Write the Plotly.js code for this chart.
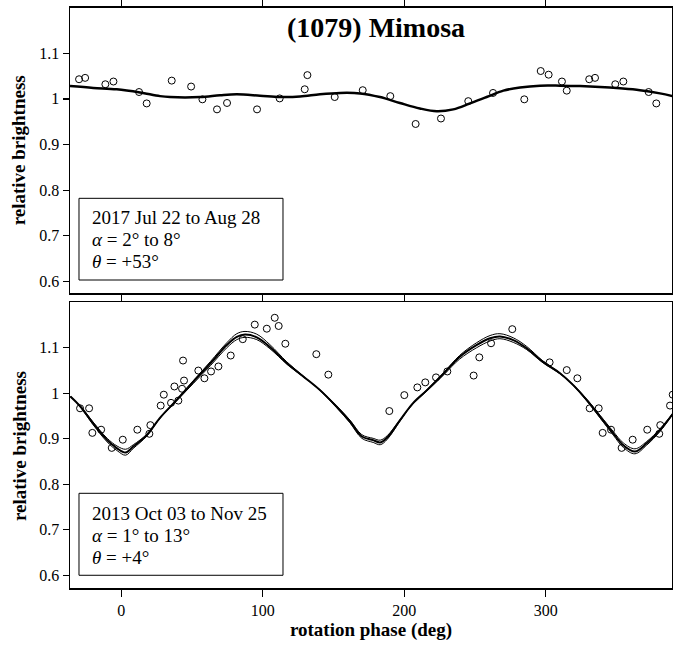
<!DOCTYPE html>
<html>
<head>
<meta charset="utf-8">
<script src="https://cdn.plot.ly/plotly-3.0.1.min.js"></script>
<style>html,body{margin:0;padding:0;background:#fff;}#chart{width:673px;height:645px;}</style>
</head>
<body>
<div id="chart"></div>
<script>
// ---- Top panel (2017) observations ----
const topObsPhase = [-29.9,-25.6,-11.3,-5.6,12.5,17.9,35.6,49.3,57.3,67.6,74.7,95.9,111.9,129.6,131.5,150.8,170.6,190.1,208.0,225.9,245.2,262.7,284.8,296.4,302.0,311.4,314.8,330.7,334.8,349.1,354.8,372.7,378.1];
const topObsBright = [1.043,1.046,1.032,1.038,1.015,0.990,1.040,1.027,0.999,0.977,0.991,0.977,1.001,1.021,1.052,1.004,1.019,1.006,0.945,0.957,0.995,1.013,0.999,1.061,1.053,1.038,1.018,1.043,1.046,1.032,1.038,1.015,0.990];
// ---- Top panel model curve ----
const topModelPhase = [-36.3,-19.8,-3.3,13.2,27.3,34.4,55.6,69.8,81.6,98,112.2,126.3,140.4,154.6,168.7,182.8,196.9,211,222.9,234.6,246.4,258.2,270,281.8,295.9,310,324.2,338.3,352.4,366.5,380.7,389.9];
const topModelBright = [1.028,1.024,1.021,1.014,1.006,1.004,1.004,1.008,1.010,1.007,1.004,1.005,1.010,1.013,1.012,1.004,0.991,0.979,0.973,0.977,0.990,1.004,1.018,1.025,1.029,1.029,1.028,1.026,1.023,1.019,1.012,1.006];

// ---- Bottom panel (2013) observations ----
const botObsPhase = [-29.2,-22.8,-20.5,-14.3,-6.8,1.0,11.3,19.8,20.5,27.8,30.0,35.1,37.5,40.3,42.9,44.3,43.6,54.4,58.7,63.4,68.6,77.3,85.8,94.3,102.8,108.4,111.2,115.9,137.8,146.3,189.4,200.0,209.2,214.8,222.4,230.4,249.0,253.0,261.3,276.3,302.7,314.8,322.3,331.0,337.4,340.2,346.1,353.6,361.4,371.7,380.2,380.9,387.8,389.7];
const botObsBright = [0.967,0.967,0.913,0.920,0.880,0.898,0.920,0.911,0.930,0.973,0.997,0.979,1.015,0.984,1.010,1.028,1.072,1.050,1.033,1.048,1.059,1.083,1.119,1.151,1.142,1.166,1.148,1.109,1.086,1.041,0.961,0.996,1.013,1.024,1.035,1.048,1.039,1.079,1.110,1.141,1.068,1.051,1.033,0.967,0.967,0.913,0.920,0.880,0.898,0.920,0.911,0.930,0.973,0.997];
// ---- Bottom panel model curves (bundle) ----
const botModelPhase = [-36,-29,-20,-10,-3,3,8.5,18,27,39,51,63,74.5,81.6,87.4,95.7,105,117,128.6,140.4,152,161.6,170,178,183,188,197,206,216,228,239,251,260.6,267.6,277,286.5,298,310,319.4,329,338.3,347.7,354.8,363,371.3,380.7,390];
const botModelMain = [0.993,0.971,0.934,0.897,0.879,0.870,0.883,0.908,0.945,0.985,1.026,1.066,1.106,1.124,1.129,1.123,1.102,1.066,1.037,1.007,0.971,0.938,0.905,0.897,0.892,0.903,0.941,0.978,1.007,1.044,1.080,1.106,1.121,1.125,1.117,1.099,1.069,1.044,1.018,0.985,0.949,0.912,0.886,0.872,0.890,0.919,0.956];
const botModelHigh = [0.994,0.970,0.931,0.893,0.874,0.864,0.879,0.906,0.944,0.986,1.028,1.070,1.111,1.131,1.136,1.130,1.107,1.069,1.038,1.006,0.969,0.935,0.901,0.892,0.887,0.899,0.939,0.978,1.008,1.046,1.083,1.111,1.127,1.131,1.122,1.103,1.071,1.045,1.017,0.983,0.946,0.908,0.881,0.867,0.886,0.916,0.955];
const botModelLow = [0.992,0.972,0.937,0.901,0.884,0.877,0.887,0.910,0.944,0.983,1.022,1.061,1.100,1.118,1.123,1.118,1.098,1.064,1.036,1.008,0.973,0.941,0.909,0.901,0.897,0.907,0.942,0.976,1.005,1.041,1.075,1.100,1.115,1.120,1.112,1.096,1.067,1.043,1.019,0.987,0.952,0.916,0.891,0.878,0.894,0.922,0.957];

const yTickVals = [0.6,0.7,0.8,0.9,1.0,1.1];
const yTickText = ['0.6','0.7','0.8','0.9','1','1.1'];
const xTickVals = [0,100,200,300];

const topInfo = ['2017 Jul 22 to Aug 28', '<i>α</i> = 2° to 8°', '<i>θ</i> = +53°'];
const botInfo = ['2013 Oct 03 to Nov 25', '<i>α</i> = 1° to 13°', '<i>θ</i> = +4°'];

const serif = 'Liberation Serif, DejaVu Serif, serif';
const mk = {symbol:'circle-open', size:7, color:'#000', line:{width:1, color:'#000'}};

const traces = [
  {x:topModelPhase, y:topModelBright, mode:'lines', line:{color:'#000', width:2.5, shape:'spline', smoothing:1}, xaxis:'x', yaxis:'y', hoverinfo:'skip'},
  {x:topObsPhase, y:topObsBright, mode:'markers', marker:mk, xaxis:'x', yaxis:'y'},
  {x:botModelPhase, y:botModelHigh, mode:'lines', line:{color:'#000', width:1, shape:'spline', smoothing:1}, xaxis:'x2', yaxis:'y2'},
  {x:botModelPhase, y:botModelLow, mode:'lines', line:{color:'#000', width:1, shape:'spline', smoothing:1}, xaxis:'x2', yaxis:'y2'},
  {x:botModelPhase, y:botModelMain, mode:'lines', line:{color:'#000', width:2, shape:'spline', smoothing:1}, xaxis:'x2', yaxis:'y2'},
  {x:botObsPhase, y:botObsBright, mode:'markers', marker:mk, xaxis:'x2', yaxis:'y2'}
];

const xCommon = {range:[-36.3,389.2], tickvals:xTickVals, ticks:'outside', ticklen:7, tickwidth:1.3, tickcolor:'#000',
  showline:true, linecolor:'#000', linewidth:1.5, mirror:'ticks', showgrid:false, zeroline:false,
  tickfont:{family:serif, size:16, color:'#000'}};
const yCommon = {tickvals:yTickVals, ticktext:yTickText, ticks:'outside', ticklen:6, tickwidth:1.3, tickcolor:'#000',
  showline:true, linecolor:'#000', linewidth:1.5, mirror:true, showgrid:false, zeroline:false,
  tickfont:{family:serif, size:16, color:'#000'}};

const annFont = {family:serif, size:19, color:'#000'};
function infoLines(lines, yMidPaper) {
  const step = 22 / 581;
  return lines.map((t, i) => ({text:t, xref:'paper', yref:'paper', x:0.0332, y:yMidPaper + (1 - i) * step,
    xanchor:'left', yanchor:'middle', showarrow:false, font:annFont}));
}

const layout = {
  width:673, height:645,
  margin:{l:70, r:1, t:7, b:57},
  paper_bgcolor:'#fff', plot_bgcolor:'#fff',
  showlegend:false,
  xaxis:Object.assign({}, xCommon, {anchor:'y', showticklabels:false}),
  yaxis:Object.assign({}, yCommon, {anchor:'x', domain:[0.5072,0.999], range:[0.574,1.2]}),
  xaxis2:Object.assign({}, xCommon, {anchor:'y2', matches:'x',
    title:{text:'<b>rotation phase (deg)</b>', font:{family:serif, size:19, color:'#000'}, standoff:5}}),
  yaxis2:Object.assign({}, yCommon, {anchor:'x2', domain:[0,0.4917], range:[0.572,1.2]}),
  shapes:[
    {type:'rect', xref:'paper', yref:'paper', x0:0.01495, x1:0.3538, y0:0.5301, y1:0.6707, line:{color:'#000', width:1}, fillcolor:'#fff', layer:'above'},
    {type:'rect', xref:'paper', yref:'paper', x0:0.01495, x1:0.3538, y0:0.0219, y1:0.163, line:{color:'#000', width:1}, fillcolor:'#fff', layer:'above'}
  ],
  annotations:[
    {text:'<b>(1079) Mimosa</b>', xref:'paper', yref:'paper', x:0.508, y:0.964, xanchor:'center', yanchor:'middle', showarrow:false,
     font:{family:serif, size:28, color:'#000'}},
    {text:'<b>relative brightness</b>', xref:'paper', yref:'paper', x:-0.085, y:0.753, textangle:-90, xanchor:'center', yanchor:'middle', showarrow:false,
     font:{family:serif, size:19, color:'#000'}},
    {text:'<b>relative brightness</b>', xref:'paper', yref:'paper', x:-0.085, y:0.244, textangle:-90, xanchor:'center', yanchor:'middle', showarrow:false,
     font:{family:serif, size:19, color:'#000'}}
  ].concat(infoLines(topInfo, 0.599), infoLines(botInfo, 0.0912))
};

Plotly.newPlot('chart', traces, layout, {displayModeBar:false, staticPlot:true});
</script>
</body>
</html>
